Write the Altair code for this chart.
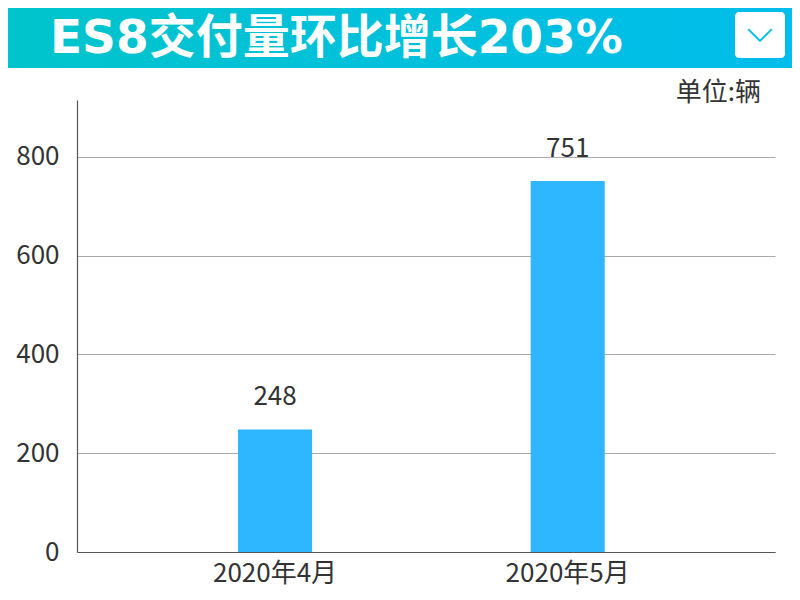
import altair as alt
import pandas as pd

categories = ["2020年4月", "2020年5月"]
values = [248, 751]
y_ticks = [0, 200, 400, 600, 800]
title_text = "ES8交付量环比增长203%"
unit_text = "单位:辆"

df = pd.DataFrame({"month": categories, "value": values})
one = pd.DataFrame({"k": [0]})

FONT = "Noto Sans CJK SC"

x_enc = alt.X("month:N", sort=categories, title=None,
              scale=alt.Scale(paddingInner=0.747, paddingOuter=0.566, align=0.486),
              axis=alt.Axis(labelAngle=0, labelFontSize=26, labelColor="#333333",
                            labelFont=FONT, ticks=False, domainColor="#555555",
                            domainWidth=1.2, labelPadding=8, grid=False))
y_enc = alt.Y("value:Q", title=None,
              scale=alt.Scale(domain=[0, 915], nice=False, zero=True),
              axis=alt.Axis(values=y_ticks, labelFontSize=26, labelColor="#333333",
                            labelFont=FONT, ticks=False, domainColor="#555555",
                            domainWidth=1.2, labelPadding=18, gridColor="#aaaaaa",
                            gridWidth=1))

bars = alt.Chart(df).mark_bar(color="#2eb7fe").encode(x=x_enc, y=y_enc)
labels = alt.Chart(df).mark_text(fontSize=26, color="#333333", font=FONT,
                                 baseline="middle", dy=-32).encode(
    x=alt.X("month:N", sort=categories), y="value:Q", text="value:Q")

header = alt.Chart(one).mark_rect(
    color=alt.Gradient(gradient="linear",
                       stops=[alt.GradientStop(color="#00c4cb", offset=0),
                              alt.GradientStop(color="#00bdeb", offset=1)],
                       x1=0, x2=1, y1=0, y2=0)
).encode(x=alt.value(-69), x2=alt.value(715), y=alt.value(-92), y2=alt.value(-32))

box = alt.Chart(one).mark_rect(color="white", cornerRadius=4).encode(
    x=alt.value(658), x2=alt.value(708), y=alt.value(-88), y2=alt.value(-42))

chevron = alt.Chart(one).mark_point(
    shape="M -1 -0.5 L 0 0.5 L 1 -0.5", filled=False, color="#00bfe6",
    strokeWidth=2, size=560, opacity=1
).encode(x=alt.value(683), y=alt.value(-65))

title = alt.Chart(one).mark_text(
    text=title_text, font="DejaVu Sans, Noto Sans CJK SC", fontWeight="bold",
    fontSize=47, color="white", align="left", baseline="middle"
).encode(x=alt.value(-27), y=alt.value(-61))

unit = alt.Chart(one).mark_text(
    text=unit_text, font=FONT, fontSize=26, color="#333333",
    align="right", baseline="middle"
).encode(x=alt.value(684), y=alt.value(-7))

chart = alt.layer(header, box, chevron, title, unit, bars, labels).properties(
    width=698, height=452,
    autosize=alt.AutoSizeParams(type="none"),
    padding={"left": 69, "top": 92, "right": 17, "bottom": 40},
    background="white",
).configure_view(stroke=None)

chart.save("out.html", embed_options={"renderer": "svg", "actions": False})
